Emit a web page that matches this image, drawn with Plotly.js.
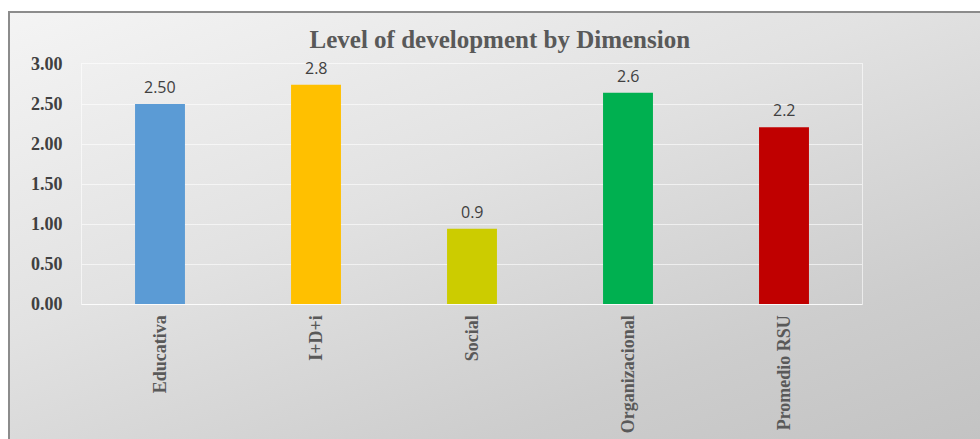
<!DOCTYPE html>
<html>
<head>
<meta charset="utf-8">
<script src="https://cdn.plot.ly/plotly-3.0.1.min.js"></script>
<style>
  html, body { margin: 0; padding: 0; width: 980px; height: 439px; overflow: hidden; background: #ffffff; }
  #frame { position: absolute; left: 8px; top: 11px; width: 990px; height: 440px;
           border-left: 2px solid #8c8c8c; border-top: 2px solid #8c8c8c;
           background: linear-gradient(160deg, #f4f4f4 0%, #e2e2e2 40%, #cdcdcd 75%, #c2c2c2 100%); }
  #chart { position: absolute; left: 0; top: 0; width: 980px; height: 439px; }
</style>
</head>
<body>
<div id="frame"></div>
<div id="chart"></div>
<script>
const categories = ["Educativa", "I+D+i", "Social", "Organizacional", "Promedio RSU"];
const values = [2.50, 2.74, 0.94, 2.64, 2.21];
const valueLabels = ["2.50", "2.8", "0.9", "2.6", "2.2"];
const barColors = ["#5B9BD5", "#FFC000", "#CCCC00", "#00B050", "#C00000"];
const yTickValues = [0, 0.5, 1, 1.5, 2, 2.5, 3];

const trace = {
  type: "bar",
  x: categories,
  y: values,
  marker: { color: barColors, line: { width: 0 } },
  hoverinfo: "none"
};

const labelAnnotations = categories.map((c, i) => ({
  x: c, y: values[i], xref: "x", yref: "y",
  text: valueLabels[i], showarrow: false,
  yanchor: "bottom", yshift: 4,
  font: { family: "Open Sans, DejaVu Sans, sans-serif", size: 16, color: "#404040" }
}));

const layout = {
  width: 980,
  height: 439,
  paper_bgcolor: "rgba(0,0,0,0)",
  plot_bgcolor: "rgba(0,0,0,0)",
  margin: { l: 82, r: 118, t: 64, b: 135 },
  showlegend: false,
  bargap: 0.68,
  annotations: labelAnnotations,
  title: {
    text: "<b>Level of development by Dimension</b>",
    font: { family: "Liberation Serif, Times New Roman, serif", size: 25, color: "#595959" },
    x: 0.51, xanchor: "center", y: 0.93, yanchor: "top"
  },
  xaxis: {
    type: "category",
    tickangle: -90,
    tickfont: { family: "Liberation Serif, Times New Roman, serif", size: 18, color: "#595959", weight: "bold" },
    showgrid: false,
    showline: true, linecolor: "rgba(255,255,255,0.6)", linewidth: 1, mirror: true,
    ticks: "", ticklen: 0, ticklabelstandoff: 3,
    automargin: false
  },
  yaxis: {
    range: [0, 3],
    tickvals: yTickValues,
    tickformat: ".2f",
    tickfont: { family: "Liberation Serif, Times New Roman, serif", size: 18, color: "#404040", weight: "bold" },
    showgrid: true, gridcolor: "rgba(255,255,255,0.6)", gridwidth: 1,
    zeroline: true, zerolinecolor: "rgba(255,255,255,0.75)", zerolinewidth: 1,
    showline: true, linecolor: "rgba(255,255,255,0.6)", linewidth: 1, mirror: true,
    ticks: "", ticklabelstandoff: 15,
    automargin: false
  }
};

Plotly.newPlot("chart", [trace], layout, { displayModeBar: false, staticPlot: true });
</script>
</body>
</html>
